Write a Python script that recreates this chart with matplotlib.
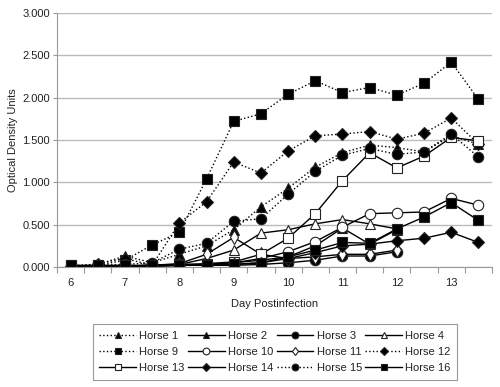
import numpy as np
import matplotlib.pyplot as plt

plt.rcParams['font.family'] = ['Liberation Sans', 'DejaVu Sans']

days = [6, 6.5, 7, 7.5, 8, 8.5, 9, 9.5, 10, 10.5, 11, 11.5, 12, 12.5, 13, 13.5]
nan = float('nan')

horse1 = [0.01, 0.03, 0.13, 0.05, 0.15, 0.25, 0.44, 0.71, 0.93, 1.18, 1.35, 1.44, 1.41, 1.36, 1.55, 1.45]
horse2 = [0.00, 0.01, 0.01, 0.02, 0.02, 0.03, 0.05, 0.08, 0.12, 0.25, 0.46, 0.27, 0.44, nan, nan, nan]
horse3 = [0.00, 0.00, 0.01, 0.01, 0.02, 0.02, 0.02, 0.03, 0.05, 0.08, 0.13, 0.13, 0.18, nan, nan, nan]
horse4 = [0.00, 0.01, 0.01, 0.02, 0.03, 0.10, 0.20, 0.40, 0.44, 0.51, 0.56, 0.51, 0.45, nan, nan, nan]
horse9 = [0.02, 0.02, 0.08, 0.26, 0.41, 1.04, 1.72, 1.81, 2.04, 2.20, 2.06, 2.12, 2.03, 2.17, 2.42, 1.98]
horse10 = [0.00, 0.00, 0.01, 0.01, 0.02, 0.03, 0.05, 0.10, 0.18, 0.30, 0.47, 0.63, 0.64, 0.65, 0.81, 0.73]
horse11 = [0.00, 0.00, 0.01, 0.02, 0.04, 0.15, 0.35, 0.15, 0.10, 0.12, 0.15, 0.15, 0.20, nan, nan, nan]
horse12 = [0.00, 0.04, 0.10, 0.02, 0.52, 0.77, 1.24, 1.11, 1.37, 1.55, 1.57, 1.60, 1.51, 1.58, 1.76, 1.45]
horse13 = [0.00, 0.01, 0.01, 0.02, 0.03, 0.04, 0.06, 0.15, 0.34, 0.63, 1.02, 1.35, 1.17, 1.31, 1.53, 1.49]
horse14 = [0.00, 0.00, 0.01, 0.01, 0.02, 0.02, 0.03, 0.05, 0.10, 0.17, 0.25, 0.27, 0.31, 0.34, 0.41, 0.29]
horse15 = [0.01, 0.02, 0.03, 0.05, 0.21, 0.28, 0.54, 0.57, 0.86, 1.13, 1.32, 1.40, 1.33, 1.36, 1.57, 1.30]
horse16 = [0.02, 0.02, 0.02, 0.02, 0.02, 0.02, 0.03, 0.05, 0.12, 0.20, 0.29, 0.28, 0.45, 0.59, 0.76, 0.55]

series = [
    ('Horse 1', horse1, ':', '^', 'k'),
    ('Horse 2', horse2, '-', '^', 'k'),
    ('Horse 3', horse3, '-', 'o', 'k'),
    ('Horse 4', horse4, '-', '^', 'w'),
    ('Horse 9', horse9, ':', 's', 'k'),
    ('Horse 10', horse10, '-', 'o', 'w'),
    ('Horse 11', horse11, '-', 'd', 'w'),
    ('Horse 12', horse12, ':', 'D', 'k'),
    ('Horse 13', horse13, '-', 's', 'w'),
    ('Horse 14', horse14, '-', 'D', 'k'),
    ('Horse 15', horse15, ':', 'o', 'k'),
    ('Horse 16', horse16, '-', 's', 'k'),
]

fig = plt.figure(figsize=(5, 3.87), dpi=100)
ax = fig.add_axes([57/500, 1-267/387, 435/500, 254/387])

handles = []
for name, vals, ls, mk, fc in series:
    ms = 7.5
    if mk == 'D':
        ms = 6
    if mk == 'd':
        ms = 7
    h, = ax.plot(days, vals, linestyle=ls, color='k', lw=1.0,
                 marker=mk, markersize=ms, markerfacecolor=fc,
                 markeredgecolor='#222222', markeredgewidth=0.8, label=name)
    handles.append(h)

ax.set_xlim(5.75, 13.75)
ax.set_ylim(0, 3.0)
ax.set_yticks(np.arange(0, 3.01, 0.5))
ax.set_yticklabels(['%.3f' % v for v in np.arange(0, 3.01, 0.5)])
ax.set_xticks(np.arange(5.75, 13.76, 0.5))
ax.set_xticklabels([])
ax.set_xticks(range(6, 14), minor=True)
ax.set_xticklabels([str(d) for d in range(6, 14)], minor=True)
ax.tick_params(axis='x', which='major', length=4, color='#999999', direction='out')
ax.tick_params(axis='x', which='minor', length=0, pad=8, labelsize=8, labelcolor='#222222')
ax.tick_params(axis='y', length=3, pad=2, color='#999999', labelsize=8, labelcolor='#222222')
ax.yaxis.grid(True, color='#bbbbbb', lw=1)
ax.set_axisbelow(True)
for s in ['top', 'right']:
    ax.spines[s].set_visible(False)
for s in ['left', 'bottom']:
    ax.spines[s].set_color('#999999')

ax.set_ylabel('Optical Density Units', fontsize=8, color='#222222')
ax.yaxis.set_label_coords(-0.09, 0.5)
ax.set_xlabel('Day Postinfection', fontsize=8, labelpad=8, color='#222222')

order = [0, 4, 8, 1, 5, 9, 2, 6, 10, 3, 7, 11]
leg = fig.legend([handles[i] for i in order], [handles[i].get_label() for i in order],
                 loc='center', bbox_to_anchor=(0.55, 0.09), ncol=4, fontsize=8,
                 handlelength=3.3, handletextpad=0.3, columnspacing=0.3,
                 labelspacing=0.55, borderpad=0.6, fancybox=False, framealpha=1,
                 edgecolor='#999999', markerscale=0.65)
leg.get_frame().set_linewidth(0.8)
for t in leg.get_texts():
    t.set_color('#222222')

fig.savefig('out.png', dpi=100)
